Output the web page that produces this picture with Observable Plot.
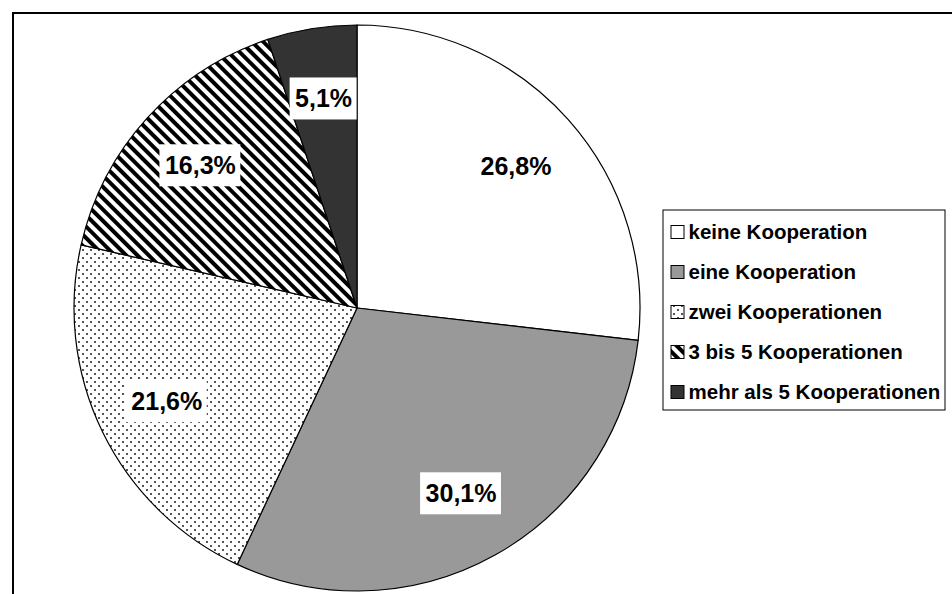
<!DOCTYPE html>
<html>
<head>
<meta charset="utf-8">
<script src="https://cdn.jsdelivr.net/npm/d3@7"></script>
<script src="https://cdn.jsdelivr.net/npm/@observablehq/plot@0.6"></script>
<style>
  html, body { margin: 0; padding: 0; background: #fff; overflow: hidden; }
  #chart svg { display: block; overflow: hidden; }
</style>
</head>
<body>
<div id="chart"></div>
<script>
// ---- data ----
const categories = ["keine Kooperation", "eine Kooperation", "zwei Kooperationen", "3 bis 5 Kooperationen", "mehr als 5 Kooperationen"];
const shares = [26.8, 30.1, 21.6, 16.3, 5.1];
const labels = ["26,8%", "30,1%", "21,6%", "16,3%", "5,1%"];
const fills = ["#ffffff", "#999999", "url(#dots)", "url(#stripes)", "#333333"];

// ---- layout ----
const W = 952, H = 594;
const cx = 357, cy = 308, R = 283;
const font = "'Liberation Sans', Arial, Helvetica, sans-serif";

const data = categories.map((c, i) => ({category: c, share: shares[i], label: labels[i], fill: fills[i], i}));
const arcs = d3.pie().sort(null).value(d => d.share)(data);

const ctx = document.createElement("canvas").getContext("2d");
ctx.font = `bold 25px ${font}`;
const labelR = R * 0.75;
const labelArc = d3.arc().innerRadius(labelR).outerRadius(labelR);
const labelPts = arcs.map(a => {
  const [dx, dy] = labelArc.centroid(a);
  return {...a.data, x: cx + dx, y: cy + dy, w: ctx.measureText(a.data.label).width};
});

// legend geometry
const legX = 663, legY = 210, legW = 282, legH = 200, rowGap = 40, firstRow = 232;
const legendRows = data.map(d => ({...d, ly: firstRow + rowGap * d.i}));

// custom mark: pattern defs + pie slices drawn through the plot's scales
function slices(index, scales) {
  const sx = scales.x, sy = scales.y;
  const g = d3.create("svg:g");
  const defs = g.append("defs");
  const dots = defs.append("pattern").attr("id", "dots").attr("patternUnits", "userSpaceOnUse")
    .attr("width", 8).attr("height", 8);
  dots.append("rect").attr("width", 8).attr("height", 8).attr("fill", "#fff");
  dots.append("rect").attr("x", 1).attr("y", 1).attr("width", 2).attr("height", 2).attr("fill", "#555");
  dots.append("rect").attr("x", 5).attr("y", 5).attr("width", 2).attr("height", 2).attr("fill", "#555");
  const stripes = defs.append("pattern").attr("id", "stripes").attr("patternUnits", "userSpaceOnUse")
    .attr("width", 8).attr("height", 8).attr("patternTransform", "rotate(-45)");
  stripes.append("rect").attr("width", 8).attr("height", 8).attr("fill", "#fff");
  stripes.append("rect").attr("width", 4).attr("height", 8).attr("fill", "#000");

  const pxR = sx(cx + R) - sx(cx);
  const arc = d3.arc().innerRadius(0).outerRadius(pxR);
  g.append("g").attr("transform", `translate(${sx(cx)},${sy(cy)})`)
    .selectAll("path").data(arcs).join("path")
    .attr("d", arc)
    .attr("fill", d => d.data.fill)
    .attr("stroke", "#000")
    .attr("stroke-width", 1.2)
    .attr("stroke-linejoin", "round");
  return g.node();
}

const svg = Plot.plot({
  width: W, height: H, margin: 0,
  x: {domain: [0, W], range: [0, W], axis: null},
  y: {domain: [0, H], range: [0, H], axis: null},
  style: {background: "#fff", fontFamily: font, overflow: "hidden"},
  marks: [
    // outer frame (cut off at right/bottom like the reference)
    Plot.rect([0], {x1: 13, x2: W + 6, y1: 13, y2: H + 6, fill: "none", stroke: "#000", strokeWidth: 2}),
    slices,
    // label boxes
    Plot.rect(labelPts, {x1: d => d.x - d.w / 2 - 5, x2: d => d.x + d.w / 2 + 5, y1: d => d.y - 21, y2: d => d.y + 21, fill: "#fff"}),
    Plot.text(labelPts, {x: "x", y: "y", text: "label", fontSize: 25, fontWeight: "bold", fill: "#000", fontFamily: font}),
    // legend
    Plot.rect([0], {x1: legX, x2: legX + legW, y1: legY, y2: legY + legH, fill: "#fff", stroke: "#000", strokeWidth: 1}),
    Plot.rect(legendRows, {x1: legX + 8, x2: legX + 21, y1: d => d.ly - 6.5, y2: d => d.ly + 6.5, fill: "fill", stroke: "#000", strokeWidth: 1}),
    Plot.text(legendRows, {x: legX + 25, y: "ly", text: "category", textAnchor: "start", fontSize: 20.5, fontWeight: "bold", fill: "#000", fontFamily: font})
  ]
});
document.getElementById("chart").append(svg);
</script>
</body>
</html>
